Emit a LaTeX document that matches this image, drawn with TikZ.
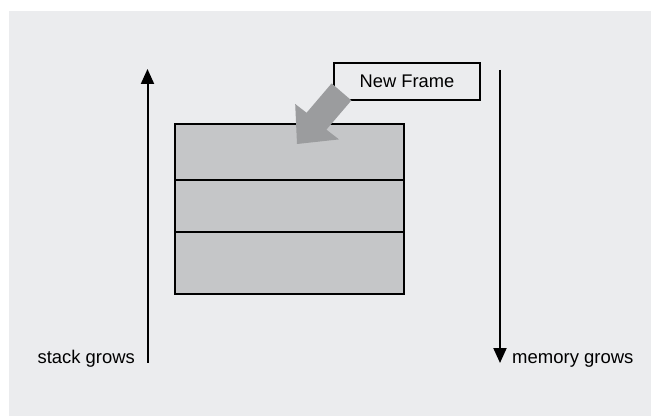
\documentclass[tikz,border=0pt]{standalone}
\usepackage{fontspec}
\setmainfont{Liberation Sans}
\usetikzlibrary{arrows.meta}
\definecolor{bgcol}{HTML}{EBECEE}
\definecolor{stackcol}{HTML}{C5C6C8}
\definecolor{bigarrow}{HTML}{9B9C9E}
\tikzset{
  frame/.style={draw=black, line width=2pt, fill=stackcol},
  growline/.style={line width=2pt, -{Triangle[length=15pt,width=13pt]}},
  lbl/.style={inner sep=0pt, font=\fontsize{18.4pt}{22pt}\selectfont},
}
\begin{document}
\begin{tikzpicture}[x=1pt, y=-1pt]
\useasboundingbox (0,0) rectangle (654,417);
\fill[bgcol] (9,11) rectangle (651,416);
% stack frames
\draw[frame] (175,124) rectangle (404,180);
\draw[frame] (175,180) rectangle (404,232);
\draw[frame] (175,232) rectangle (404,294);
% new frame label box
\node[draw=black, line width=1.6pt, fill=bgcol, minimum width=146pt, minimum height=37pt, inner sep=0pt,
      font=\fontsize{18.3pt}{22pt}\selectfont] (nf) at (407,81.5) {New Frame};
% big gray arrow
\fill[bigarrow] (297,144) -- (295.2,104) -- (306.6,112.75) -- (331.6,83.4) -- (351.4,100.4)
  -- (326.4,129.65) -- (339,139.4) -- cycle;
% growth arrows
\coordinate (sb) at (147.5,362.7);
\coordinate (st) at (147.5,69);
\draw[growline] (sb) -- (st);
\coordinate (mt) at (500,70);
\coordinate (mb) at (500,363);
\draw[growline] (mt) -- (mb);
\node[lbl, anchor=base east] (sg) at (135,363) {stack grows};
\node[lbl, anchor=base west, font=\fontsize{18.5pt}{22pt}\selectfont] (mg) at (512,363) {memory grows};
\end{tikzpicture}
\end{document}
